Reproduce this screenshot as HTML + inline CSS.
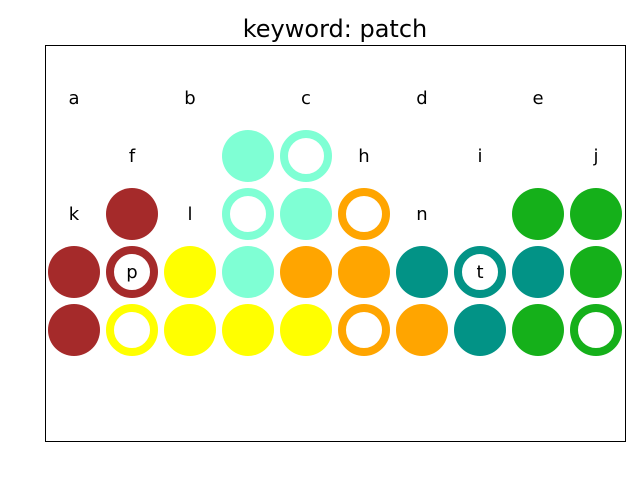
<!DOCTYPE html>
<html><head><meta charset="utf-8"><style>
body{margin:0;background:#fff;width:640px;height:480px;overflow:hidden}
svg text{font-family:"DejaVu Sans","Liberation Sans",sans-serif}
</style></head><body>
<svg id="chart" width="640" height="480">
<rect x="0" y="0" width="640" height="480" fill="#fff"/>
<text x="335" y="37" font-size="24" text-anchor="middle">keyword: patch</text>
<rect x="45.5" y="45.5" width="580" height="396" fill="none" stroke="#000" stroke-width="1"/>
<g id="marks"></g>
<g id="labels"></g>
</svg>
<script>
const markCols = [3,4, 1,3,4,5,8,9, 0,1,2,3,4,5,6,7,8,9, 0,1,2,3,4,5,6,7,8,9];
const markRows = [1,1, 2,2,2,2,2,2, 3,3,3,3,3,3,3,3,3,3, 4,4,4,4,4,4,4,4,4,4];
const markColors = ['aqua','aqua','brown','aqua','aqua','orange','green','green',
 'brown','brown','yellow','aqua','orange','orange','teal','teal','teal','green',
 'brown','yellow','yellow','yellow','yellow','orange','orange','teal','green','green'];
const markRing = [0,1, 0,1,0,1,0,0, 0,1,0,0,0,0,0,1,0,0, 0,1,0,0,0,1,0,0,0,1];
const letterText = ['a','b','c','d','e','f','h','i','j','k','l','n','p','t'];
const letterCols = [0,2,4,6,8,1,5,7,9,0,2,6,1,7];
const letterRows = [0,0,0,0,0,1,1,1,1,2,2,2,3,3];
const palette = {brown:'#a52a2a',yellow:'#ffff00',aqua:'#7fffd4',orange:'#ffa500',teal:'#029386',green:'#15b01a'};
const xs = c => 74 + c*58;
const ys = r => 98 + r*58;
const NS='http://www.w3.org/2000/svg';
const mg=document.getElementById('marks');
for(let i=0;i<markCols.length;i++){
  const c=document.createElementNS(NS,'circle');
  const col=palette[markColors[i]];
  c.setAttribute('cx',xs(markCols[i]));
  c.setAttribute('cy',ys(markRows[i]));
  if(markRing[i]){
    c.setAttribute('r',22);
    c.setAttribute('fill','#fff');
    c.setAttribute('stroke',col);
    c.setAttribute('stroke-width',8);
  } else {
    c.setAttribute('r',26);
    c.setAttribute('fill',col);
  }
  
  
  mg.appendChild(c);
}
const lg=document.getElementById('labels');
for(let i=0;i<letterText.length;i++){
  const t=document.createElementNS(NS,'text');
  t.setAttribute('x',xs(letterCols[i]));
  t.setAttribute('y',ys(letterRows[i])+6);
  t.setAttribute('font-size','18');
  t.setAttribute('text-anchor','middle');
  t.textContent=letterText[i];
  
  
  lg.appendChild(t);
}
</script>
</body></html>
